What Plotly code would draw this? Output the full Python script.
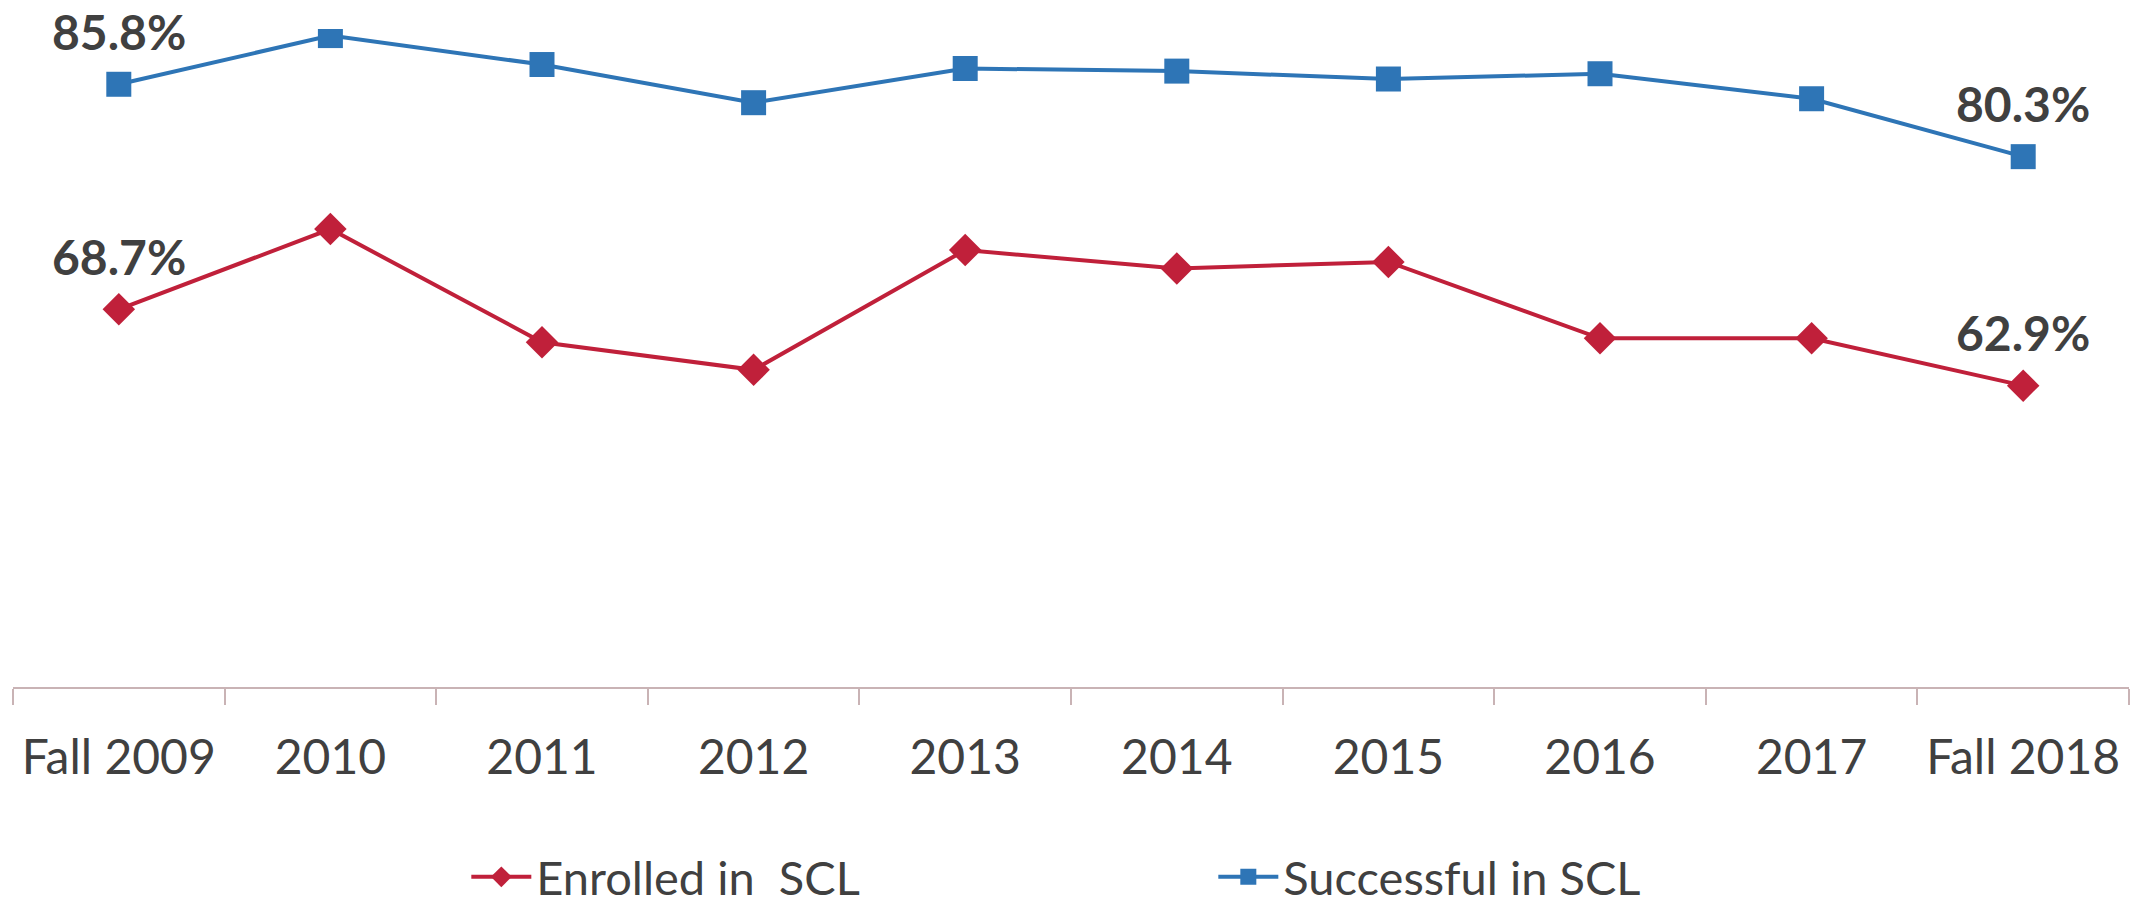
"""
Enrolled vs successful in SCL, Fall 2009 - Fall 2018
"""

import plotly.graph_objects as go

years = ["Fall 2009", "2010", "2011", "2012", "2013",
         "2014", "2015", "2016", "2017", "Fall 2018"]
enrolled = [68.7, 74.8, 66.2, 64.1, 73.2, 71.8, 72.3, 66.5, 66.5, 62.9]
successful = [85.8, 89.5, 87.3, 84.4, 87.0, 86.8, 86.2, 86.6, 84.7, 80.3]

RED = "#C0203A"
BLUE = "#2E75B6"
TEXT = "#404040"
FONT = "Lato, 'Open Sans', sans-serif"

fig = go.Figure()

fig.add_trace(go.Scatter(
    x=years,
    y=enrolled,
    name="Enrolled in  SCL",
    mode="lines+markers",
    line=dict(color=RED, width=4),
    marker=dict(symbol="diamond", size=25, color=RED)
))

fig.add_trace(go.Scatter(
    x=years,
    y=successful,
    name="Successful in SCL",
    mode="lines+markers",
    line=dict(color=BLUE, width=4),
    marker=dict(symbol="square", size=25, color=BLUE)
))

# Labels only on the first and last points
for series in (enrolled, successful):
    for i in (0, len(years) - 1):
        fig.add_annotation(
            x=years[i],
            y=series[i],
            text=f"{series[i]:.1f}%",
            showarrow=False,
            yshift=53,
            font=dict(family=FONT, size=48, color=TEXT, weight="bold")
        )

fig.update_xaxes(
    type="category",
    range=[-0.5, len(years) - 0.5],
    automargin=False,
    showline=True,
    linecolor="#C9B3B5",
    linewidth=2,
    ticks="outside",
    tickson="boundaries",
    ticklen=16,
    tickcolor="#C9B3B5",
    tickwidth=1.5,
    showgrid=False,
    ticklabelstandoff=27,
    tickfont=dict(family=FONT, size=48, color=TEXT)
)

fig.update_yaxes(
    range=[40, 90],
    visible=False,
    showgrid=False,
    automargin=False
)

fig.update_layout(
    width=2143,
    height=910,
    margin=dict(l=13, r=14, t=29, b=223, autoexpand=False),
    paper_bgcolor="white",
    plot_bgcolor="white",
    showlegend=True,
    legend=dict(
        orientation="h",
        xref="container",
        yref="container",
        x=0.2176,
        xanchor="left",
        y=0.036,
        yanchor="middle",
        entrywidth=672,
        entrywidthmode="pixels",
        itemwidth=60,
        font=dict(family=FONT, size=47, color=TEXT)
    )
)

# drop the browser's default body margin so the figure sits at (0, 0)
fig.write_html(
    "out.html",
    config={"displayModeBar": False},
    post_script="document.body.style.margin='0';"
)
